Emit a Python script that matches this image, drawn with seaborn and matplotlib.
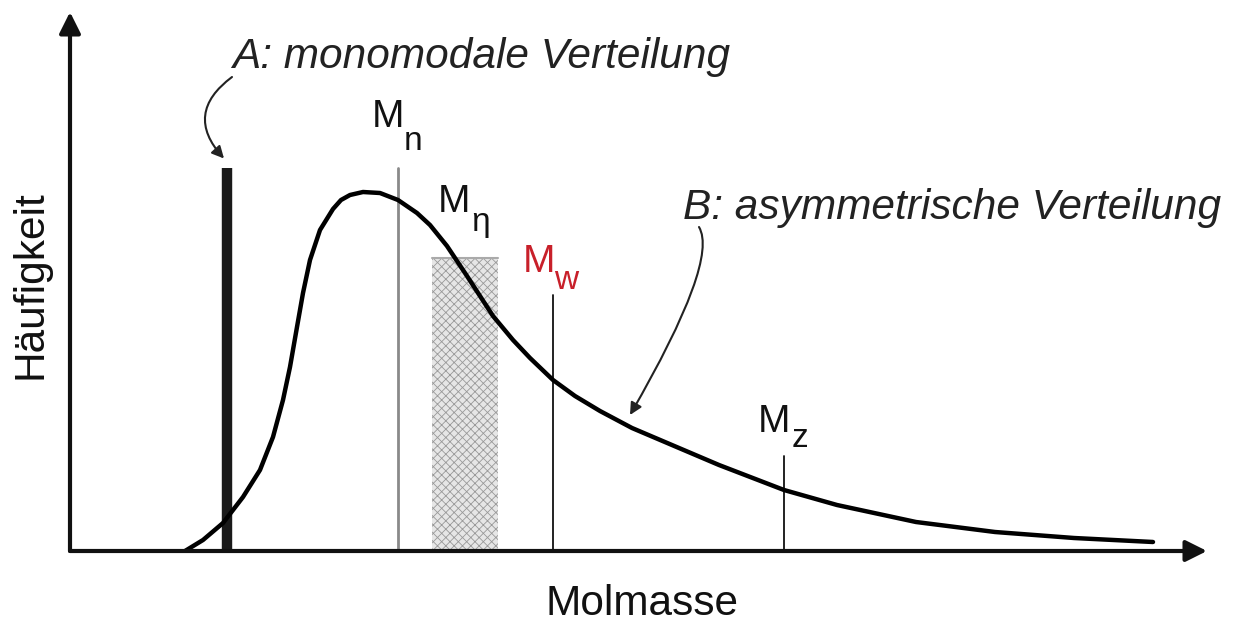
import numpy as np
import pandas as pd
import matplotlib
matplotlib.use('Agg')
import matplotlib.pyplot as plt
import seaborn as sns

# Verteilungskurve B (Molmasse, Häufigkeit)
molmasse = [11.5, 13.3, 15.3, 17.3, 19.0, 20.3, 21.3, 22.0, 22.7, 23.3, 24.0, 25.0,
            26.3, 27.1, 28.0, 29.3, 31.0, 32.8, 34.7, 36.0, 37.7, 39.7, 42.3, 44.3,
            46.0, 48.3, 50.5, 53.0, 56.2, 60.9, 64.9, 71.4, 76.7, 84.6, 92.5, 100.4, 108.3]
haeufigkeit = [0.0, 2.2, 5.6, 10.8, 16.2, 22.8, 30.2, 36.8, 44.8, 51.6, 58.2, 64.2,
               68.4, 70.2, 71.2, 71.8, 71.6, 70.2, 67.6, 65.2, 61.0, 55.0, 47.0, 42.2,
               38.6, 34.2, 31.0, 28.0, 24.6, 20.6, 17.2, 12.2, 9.2, 5.8, 3.8, 2.6, 1.8]

# A: monomodale Verteilung
mono_x = 15.7
mono_h = 76.6

# Mittelwerte Mn, Mw, Mz
mittel_x = [32.8, 48.3, 71.4]
mittel_h = [76.6, 51.2, 19.0]
mittel_sub = ['n', 'w', 'z']

# Viskositätsmittel (schraffierter Bereich)
eta_x = [36.2, 42.8]
eta_h = 58.6

df = pd.DataFrame({'Molmasse': molmasse, 'Häufigkeit': haeufigkeit})

sns.set_style('white')
plt.rcParams['font.family'] = ['Liberation Sans', 'DejaVu Sans']
plt.rcParams['hatch.linewidth'] = 0.6
plt.rcParams['hatch.color'] = '#777777'

fig = plt.figure(figsize=(12.33, 6.25), dpi=100)
ax = fig.add_axes([70 / 1233, 74 / 625, 1137 / 1233, 539 / 625])
ax.set_xlim(0, 113.7)
ax.set_ylim(0, 107.8)
ax.axis('off')

# schraffierte Fläche
ax.fill_between(eta_x, 0, eta_h, facecolor='#e6e6e6', edgecolor='#999999',
                hatch='xxxx', linewidth=0)
ax.plot(eta_x, [eta_h, eta_h], color='#aaaaaa', lw=1.5)

# Mittelwert-Linien
farben = ['#8a8a8a', '#111111', '#111111']
breiten = [2.0, 1.3, 1.3]
for x, h, c, w in zip(mittel_x, mittel_h, farben, breiten):
    ax.plot([x, x], [0, h], color=c, lw=w)

# monomodale Verteilung
ax.plot([mono_x, mono_x], [0, mono_h], color='#1a1a1a', lw=7.5, solid_capstyle='butt')

# Verteilungskurve
sns.lineplot(data=df, x='Molmasse', y='Häufigkeit', ax=ax, color='black', lw=3.2)

# Achsenpfeile
pfeil = dict(arrowstyle='-|>', lw=3, color='#111111', mutation_scale=32, shrinkA=0, shrinkB=0)
ax.annotate('', xy=(1.0, 0), xytext=(0, 0), xycoords='axes fraction', arrowprops=pfeil)
ax.annotate('', xy=(0, 1.0), xytext=(0, 0), xycoords='axes fraction', arrowprops=pfeil)

# Beschriftungen M mit Index
fs_m = 28
fs_i = 24
labels = [
    ('n', (30.2, 84.8), (33.4, 80.2), '#111111'),
    ('\u03b7', (36.8, 67.8), (40.1, 64.0), '#111111'),
    ('w', (45.3, 55.8), (48.4, 52.4), '#c8202a'),
    ('z', (68.8, 23.8), (72.2, 20.8), '#111111'),
]
for sub, pm, ps, c in labels:
    ax.text(*pm, 'M', fontsize=fs_m, color=c, ha='left', va='baseline')
    ax.text(*ps, sub, fontsize=fs_i, color=c, ha='left', va='baseline')

# Verteilungsnamen
fs = 30.5
ax.text(16.2, 96.6, 'A: monomodale Verteilung', fontsize=fs, style='italic',
        color='#222222', ha='left', va='baseline')
ax.text(61.3, 66.4, 'B: asymmetrische Verteilung', fontsize=fs, style='italic',
        color='#222222', ha='left', va='baseline')

# gebogene Pfeile
ax.annotate('', xy=(15.4, 78.5), xytext=(16.2, 94.8),
            arrowprops=dict(arrowstyle='-|>', lw=1.5, color='#222222', mutation_scale=18,
                            connectionstyle='arc3,rad=0.55', shrinkA=0, shrinkB=0))
ax.annotate('', xy=(56.0, 27.2), xytext=(62.9, 64.8),
            arrowprops=dict(arrowstyle='-|>', lw=1.5, color='#222222', mutation_scale=18,
                            connectionstyle='angle3,angleA=-59,angleB=60',
                            shrinkA=0, shrinkB=0))

# Achsentitel
fig.text(642 / 1233, 1 - 615 / 625, 'Molmasse', fontsize=fs, ha='center', va='baseline',
         color='#111111')
fig.text(31 / 1233, 1 - 285 / 625, 'Häufigkeit', fontsize=fs, ha='center', va='center',
         rotation=90, color='#111111')

fig.savefig('out.png', dpi=100)
